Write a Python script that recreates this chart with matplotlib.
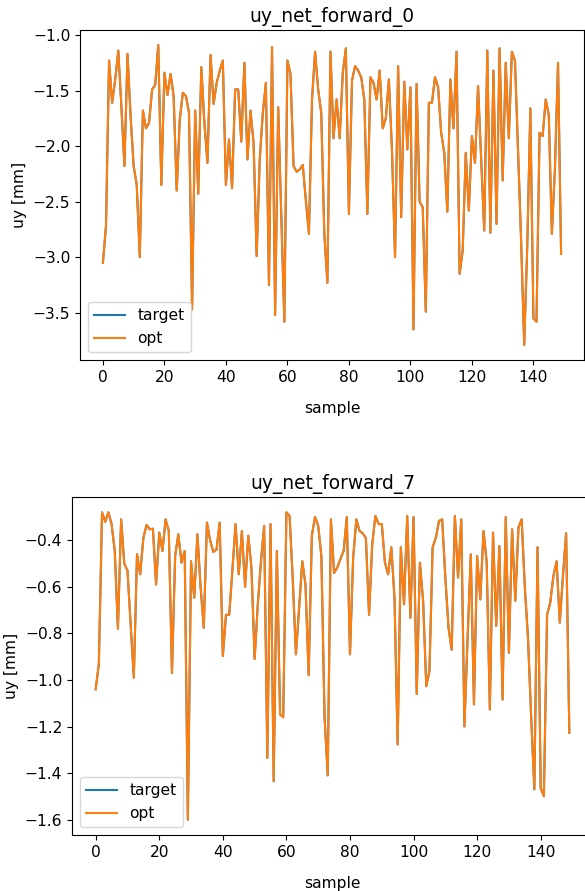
import numpy as np
import matplotlib
matplotlib.use("Agg")
import matplotlib.pyplot as plt

# uy_net_forward_0 (target and opt coincide)
uy_0 = [-3.05, -2.72, -1.23, -1.61, -1.40, -1.14, -1.64, -2.18, -1.17, -1.73,
        -2.18, -2.35, -3.00, -1.68, -1.84, -1.79, -1.49, -1.45, -1.09, -2.35,
        -1.34, -1.54, -1.35, -1.55, -2.40, -1.76, -1.52, -1.55, -1.70, -3.47,
        -1.68, -2.43, -1.29, -1.79, -2.15, -1.18, -1.62, -1.43, -1.32, -1.23,
        -2.35, -1.94, -2.38, -1.49, -1.49, -1.96, -1.25, -2.12, -1.68, -1.97,
        -2.99, -2.12, -1.70, -1.43, -3.25, -1.11, -3.52, -1.65, -2.61, -3.58,
        -1.23, -1.35, -2.18, -2.23, -2.21, -2.17, -2.49, -2.79, -1.58, -1.15,
        -1.49, -1.70, -2.79, -3.23, -1.15, -1.93, -1.58, -1.93, -1.34, -1.12,
        -2.61, -1.41, -1.28, -1.32, -1.38, -1.58, -2.61, -1.38, -1.43, -1.58,
        -1.32, -1.84, -1.75, -1.40, -2.03, -3.00, -1.28, -2.64, -1.42, -2.03,
        -1.47, -3.65, -1.44, -2.50, -2.55, -3.49, -1.61, -1.61, -1.38, -1.47,
        -1.88, -2.06, -2.59, -1.40, -1.84, -1.15, -3.15, -2.94, -2.06, -2.58,
        -1.91, -2.15, -1.46, -2.12, -2.76, -1.14, -2.78, -1.32, -2.70, -1.12,
        -2.31, -1.25, -1.93, -1.15, -1.23, -2.05, -2.85, -3.79, -2.90, -1.66,
        -3.55, -3.58, -1.88, -1.91, -1.58, -1.72, -2.79, -2.20, -1.25, -2.97]

# uy_net_forward_7
uy_7 = [-1.04, -0.93, -0.28, -0.32, -0.28, -0.33, -0.446, -0.78, -0.31, -0.50,
        -0.53, -0.76, -0.99, -0.46, -0.546, -0.39, -0.334, -0.353, -0.35, -0.59,
        -0.367, -0.446, -0.31, -0.36, -0.97, -0.467, -0.374, -0.496, -0.446, -1.60,
        -0.49, -0.647, -0.374, -0.60, -0.776, -0.324, -0.40, -0.45, -0.44, -0.324,
        -0.897, -0.72, -0.72, -0.53, -0.33, -0.546, -0.36, -0.60, -0.38, -0.517,
        -0.91, -0.675, -0.49, -0.338, -1.335, -0.33, -1.435, -0.446, -1.148, -1.16,
        -0.28, -0.295, -0.57, -0.89, -0.69, -0.49, -0.59, -0.98, -0.38, -0.30,
        -0.338, -0.467, -1.16, -1.41, -0.31, -0.54, -0.517, -0.48, -0.446, -0.30,
        -0.89, -0.475, -0.31, -0.36, -0.37, -0.39, -0.72, -0.417, -0.295, -0.33,
        -0.33, -0.496, -0.546, -0.43, -0.647, -1.277, -0.43, -0.675, -0.295, -0.733,
        -0.30, -1.06, -0.496, -0.66, -1.027, -0.962, -0.43, -0.39, -0.317, -0.31,
        -0.56, -0.776, -0.87, -0.295, -0.56, -0.31, -1.20, -0.82, -0.46, -1.105,
        -0.467, -0.654, -0.36, -0.49, -1.127, -0.367, -0.768, -0.424, -1.084, -0.30,
        -0.883, -0.353, -0.66, -0.345, -0.31, -0.60, -0.82, -1.16, -1.47, -0.43,
        -1.464, -1.50, -0.72, -0.668, -0.553, -0.49, -0.754, -0.553, -0.37, -1.227]

plt.rcParams["font.size"] = 11.2

W, H = 585, 891
fig = plt.figure(figsize=(W / 100, H / 100), dpi=100)

# pixel boxes (left, top, right, bottom)
boxes = [(80, 30, 584, 360), (72, 497, 593, 835)]
series = [uy_0, uy_7]
titles = ["uy_net_forward_0", "uy_net_forward_7"]

for (l, t, r, b), y, title in zip(boxes, series, titles):
    ax = fig.add_axes([l / W, 1 - b / H, (r - l) / W, (b - t) / H])
    x = np.arange(len(y))
    ax.plot(x, y, label="target")
    ax.plot(x, y, label="opt")
    ax.set_title(title)
    ax.set_xlabel("sample", labelpad=12)
    ax.set_ylabel("uy [mm]")
    ax.legend(loc="lower left")

fig.savefig("out.png", dpi=100)
